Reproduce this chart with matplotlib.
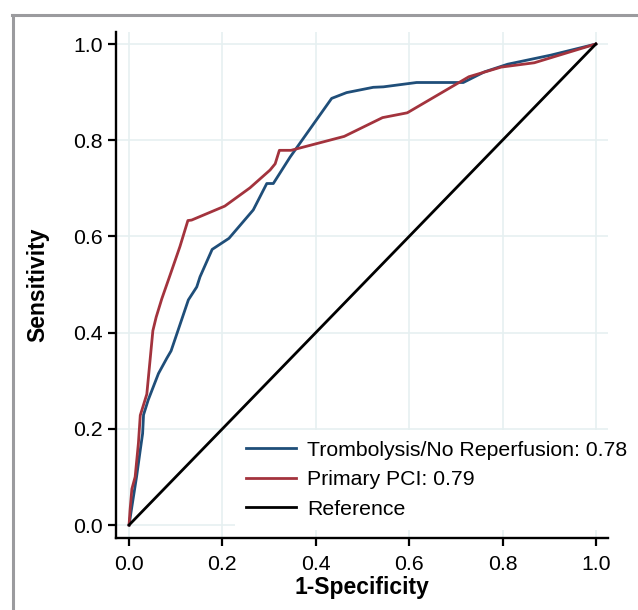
"""ROC curves: thrombolysis/no reperfusion vs primary PCI."""
import matplotlib
matplotlib.use('Agg')
import matplotlib.pyplot as plt
from matplotlib.lines import Line2D

plt.rcParams['font.family'] = ['Liberation Sans', 'DejaVu Sans']

# curve points
fpr_lysis = [0, 0.006, 0.016, 0.024, 0.029, 0.031, 0.041, 0.063, 0.081, 0.090,
             0.127, 0.145, 0.152, 0.178, 0.214, 0.266, 0.295, 0.309, 0.345,
             0.434, 0.466, 0.523, 0.545, 0.616, 0.716, 0.761, 0.811, 0.904, 1.0]
tpr_lysis = [0, 0.038, 0.10, 0.156, 0.19, 0.229, 0.26, 0.315, 0.347, 0.362,
             0.468, 0.495, 0.516, 0.573, 0.596, 0.655, 0.710, 0.710, 0.765,
             0.887, 0.899, 0.910, 0.911, 0.920, 0.920, 0.942, 0.958, 0.977, 1.0]

fpr_pci = [0, 0.002, 0.006, 0.013, 0.02, 0.024, 0.038, 0.051, 0.058, 0.07,
           0.088, 0.109, 0.126, 0.134, 0.205, 0.259, 0.302, 0.313, 0.322,
           0.347, 0.461, 0.543, 0.596, 0.728, 0.797, 0.868, 1.0]
tpr_pci = [0, 0.03, 0.075, 0.10, 0.17, 0.228, 0.272, 0.404, 0.432, 0.47,
           0.52, 0.579, 0.633, 0.634, 0.663, 0.701, 0.738, 0.751, 0.779,
           0.779, 0.808, 0.847, 0.857, 0.932, 0.952, 0.961, 1.0]

auc_lysis = 0.78
auc_pci = 0.79
ticks = [0.0, 0.2, 0.4, 0.6, 0.8, 1.0]

BLUE = '#1F4E79'
RED = '#A3333D'
GRID = '#E6F0F1'
FS = 15.3

W, H = 638, 610
fig = plt.figure(figsize=(W / 100, H / 100), dpi=100)
fig.patch.set_facecolor('white')
ax = fig.add_axes([116 / W, 1 - 538 / H, 492 / W, 506 / H])

ax.plot(fpr_lysis, tpr_lysis, color=BLUE, lw=2.0,
        label=f'Trombolysis/No Reperfusion: {auc_lysis:.2f}', zorder=3)
ax.plot(fpr_pci, tpr_pci, color=RED, lw=2.0,
        label=f'Primary PCI: {auc_pci:.2f}', zorder=3)
ax.plot([0, 1], [0, 1], color='black', lw=2.0, label='Reference', zorder=3)

ax.set_xlim(-0.028, 1.026)
ax.set_ylim(-0.027, 1.025)
ax.set_xticks(ticks)
ax.set_yticks(ticks)
ax.xaxis.set_major_formatter(plt.FuncFormatter(lambda v, _: f'{v:.1f}'))
ax.yaxis.set_major_formatter(plt.FuncFormatter(lambda v, _: f'{v:.1f}'))
ax.grid(True, color=GRID, lw=1.2, zorder=0)
ax.set_axisbelow(True)

for s in ['top', 'right']:
    ax.spines[s].set_visible(False)
for s in ['left', 'bottom']:
    ax.spines[s].set_linewidth(1.7)
ax.tick_params(axis='both', direction='out', length=5.5, width=1.6,
               labelsize=FS, colors='black')
ax.tick_params(axis='x', pad=7)
ax.tick_params(axis='y', pad=4)

ax.set_xlabel('1-Specificity', fontsize=16.5, fontweight='bold', labelpad=1)
ax.set_ylabel('Sensitivity', fontsize=16.5, fontweight='bold', labelpad=17)

leg = ax.legend(loc='upper left', bbox_to_anchor=(235 / W, 1 - 430 / H),
                bbox_transform=fig.transFigure, borderaxespad=0,
                fontsize=FS, frameon=True, fancybox=False, framealpha=1,
                facecolor='white', edgecolor='none', borderpad=0.5,
                handlelength=2.35, handletextpad=0.55, labelspacing=0.5)
leg.set_zorder(5)

# grey frame at top and left
fig.add_artist(Line2D([12.5 / W, 12.5 / W], [0, 1 - 15 / H],
                      transform=fig.transFigure, color='#9B9B9E', lw=2.2))
fig.add_artist(Line2D([11.5 / W, 1], [1 - 15 / H, 1 - 15 / H],
                      transform=fig.transFigure, color='#9B9B9E', lw=2.2))

fig.savefig('out.png', dpi=100, facecolor='white')
plt.close(fig)
